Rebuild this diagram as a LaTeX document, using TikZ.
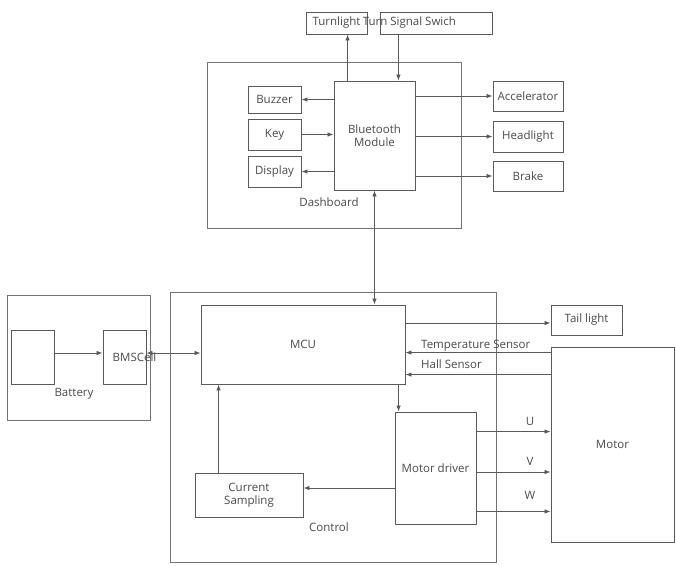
\documentclass[tikz,border=0pt]{standalone}
\usepackage{fontspec}
\setmainfont{Open Sans}
\usetikzlibrary{positioning,arrows.meta,calc}
\definecolor{linegray}{HTML}{5A5A5A}
\definecolor{textgray}{HTML}{4A4A4A}

\begin{document}
\begin{tikzpicture}[
  x=1pt, y=-1pt,
  box/.style={rectangle, draw=linegray, line width=0.9pt, inner sep=0pt, font=\fontsize{11.5}{13.5}\selectfont, text=textgray, align=center},
  group/.style={rectangle, draw=linegray!85, line width=0.9pt, inner sep=0pt},
  lbl/.style={inner sep=0pt, font=\fontsize{11.5}{13.5}\selectfont, text=textgray},
  arr/.style={-{Latex[length=6pt,width=4.5pt]}, line width=0.8pt, draw=linegray},
  arrboth/.style={{Latex[length=6pt,width=4.5pt]}-{Latex[length=6pt,width=4.5pt]}, line width=0.8pt, draw=linegray},
]
\useasboundingbox (0,0) rectangle (676,565);

% dashboard
\node[group, minimum width=254pt, minimum height=166pt] (dash) at (334,145) {};
\node[lbl] (dashlbl) at (329,202) {Dashboard};
\node[box, minimum width=61pt, minimum height=22pt] (tl) at (336.5,23) {Turnlight};
\node[box, minimum width=112pt, minimum height=22pt,
  label={[lbl, anchor=west, xshift=-17pt]west:Turn Signal Swich}] (ts) at (436,23) {};
\node[box, minimum width=81pt, minimum height=109pt] (bt) at (374.5,135.5) {Bluetooth\\Module};
\node[box, minimum width=53pt, minimum height=27pt] (buz) at (274.5,99.5) {Buzzer};
\node[box, minimum width=53pt, minimum height=31pt] (key) at (274.5,134.5) {Key};
\node[box, minimum width=53pt, minimum height=31pt] (disp) at (274.5,171.5) {Display};
\node[box, minimum width=70pt, minimum height=30pt] (acc) at (528,96) {Accelerator};
\node[box, minimum width=70pt, minimum height=31pt] (head) at (528,136.5) {Headlight};
\node[box, minimum width=70pt, minimum height=30pt] (brake) at (528,176) {Brake};

% battery
\node[group, minimum width=143pt, minimum height=125pt] (batt) at (78.5,357.5) {};
\node[lbl] (battlbl) at (74,394) {Battery};
\node[box, minimum width=43pt, minimum height=54pt] (cell) at (32.5,357) {};
\node[box, minimum width=43pt, minimum height=54pt,
  label={[lbl, xshift=10pt]center:BMSCell}] (bms) at (124.5,357) {};

% control
\node[group, minimum width=326pt, minimum height=270pt] (ctrl) at (333,427) {};
\node[lbl] (ctrllbl) at (329,527) {Control};
\node[box, minimum width=204pt, minimum height=79pt] (mcu) at (303,344.5) {MCU};
\node[box, minimum width=81pt, minimum height=112pt] (md) at (435.5,468) {Motor driver};
\node[box, minimum width=108pt, minimum height=44pt] (cs) at (249,495) {Current\\Sampling};
\node[box, minimum width=71pt, minimum height=30pt] (tail) at (586.5,320) {Tail light};
\node[box, minimum width=123pt, minimum height=195pt] (motor) at (612.5,444.5) {Motor};

% dashboard links
\draw[arr] ([xshift=14pt]bt.north west) -- ([xshift=14pt]bt.north west |- tl.south);
\draw[arr] ([xshift=-17pt]bt.north east |- ts.south) -- ([xshift=-17pt]bt.north east);
\draw[arr] (bt.west |- buz) -- (buz.east);
\draw[arr] (key.east) -- (bt.west |- key);
\draw[arr] (bt.west |- disp) -- (disp.east);
\foreach \o in {acc,head,brake}{\draw[arr] (bt.east |- \o) -- (\o.west);}
\draw[arrboth] (bt.south) -- (bt.south |- mcu.north);

% battery links
\draw[arr] ([yshift=4pt]cell.east) -- ([yshift=4pt]bms.west);
\draw[arrboth] ([yshift=4pt]bms.east) -- ([yshift=4pt]bms.east -| mcu.west);

% control links
\draw[arr] ([yshift=-3pt]tail.west -| mcu.east) -- ([yshift=-3pt]tail.west);
\draw[arr] ([yshift=-6pt]motor.north west) -- ([yshift=-6pt]motor.north west -| mcu.east);
\draw[arr] ([yshift=-28pt]motor.north west) -- ([yshift=-28pt]motor.north west -| mcu.east);
\node[lbl, anchor=west] (templbl) at (421,346) {Temperature Sensor};
\node[lbl, anchor=west] (halllbl) at (421,364) {Hall Sensor};
\draw[arr] ([xshift=4pt]md.north west |- mcu.south) -- ([xshift=4pt]md.north west);
\draw[arr] ([yshift=7pt]cs.east -| md.west) -- ([yshift=7pt]cs.east);
\draw[arr] ([xshift=24pt]cs.north west) -- ([xshift=24pt]cs.north west |- mcu.south);
\draw[arr] ([yshift=-20pt]md.north east) -- ([yshift=-20pt]md.north east -| motor.west);
\draw[arr] ([yshift=-4pt]md.east) -- ([yshift=-4pt]md.east -| motor.west);
\draw[arr] ([yshift=13pt]md.south east) -- ([yshift=13pt]md.south east -| motor.west);
\node[lbl] (ulbl) at (530,421) {U};
\node[lbl] (vlbl) at (530,461) {V};
\node[lbl] (wlbl) at (530,495) {W};
\end{tikzpicture}
\end{document}
